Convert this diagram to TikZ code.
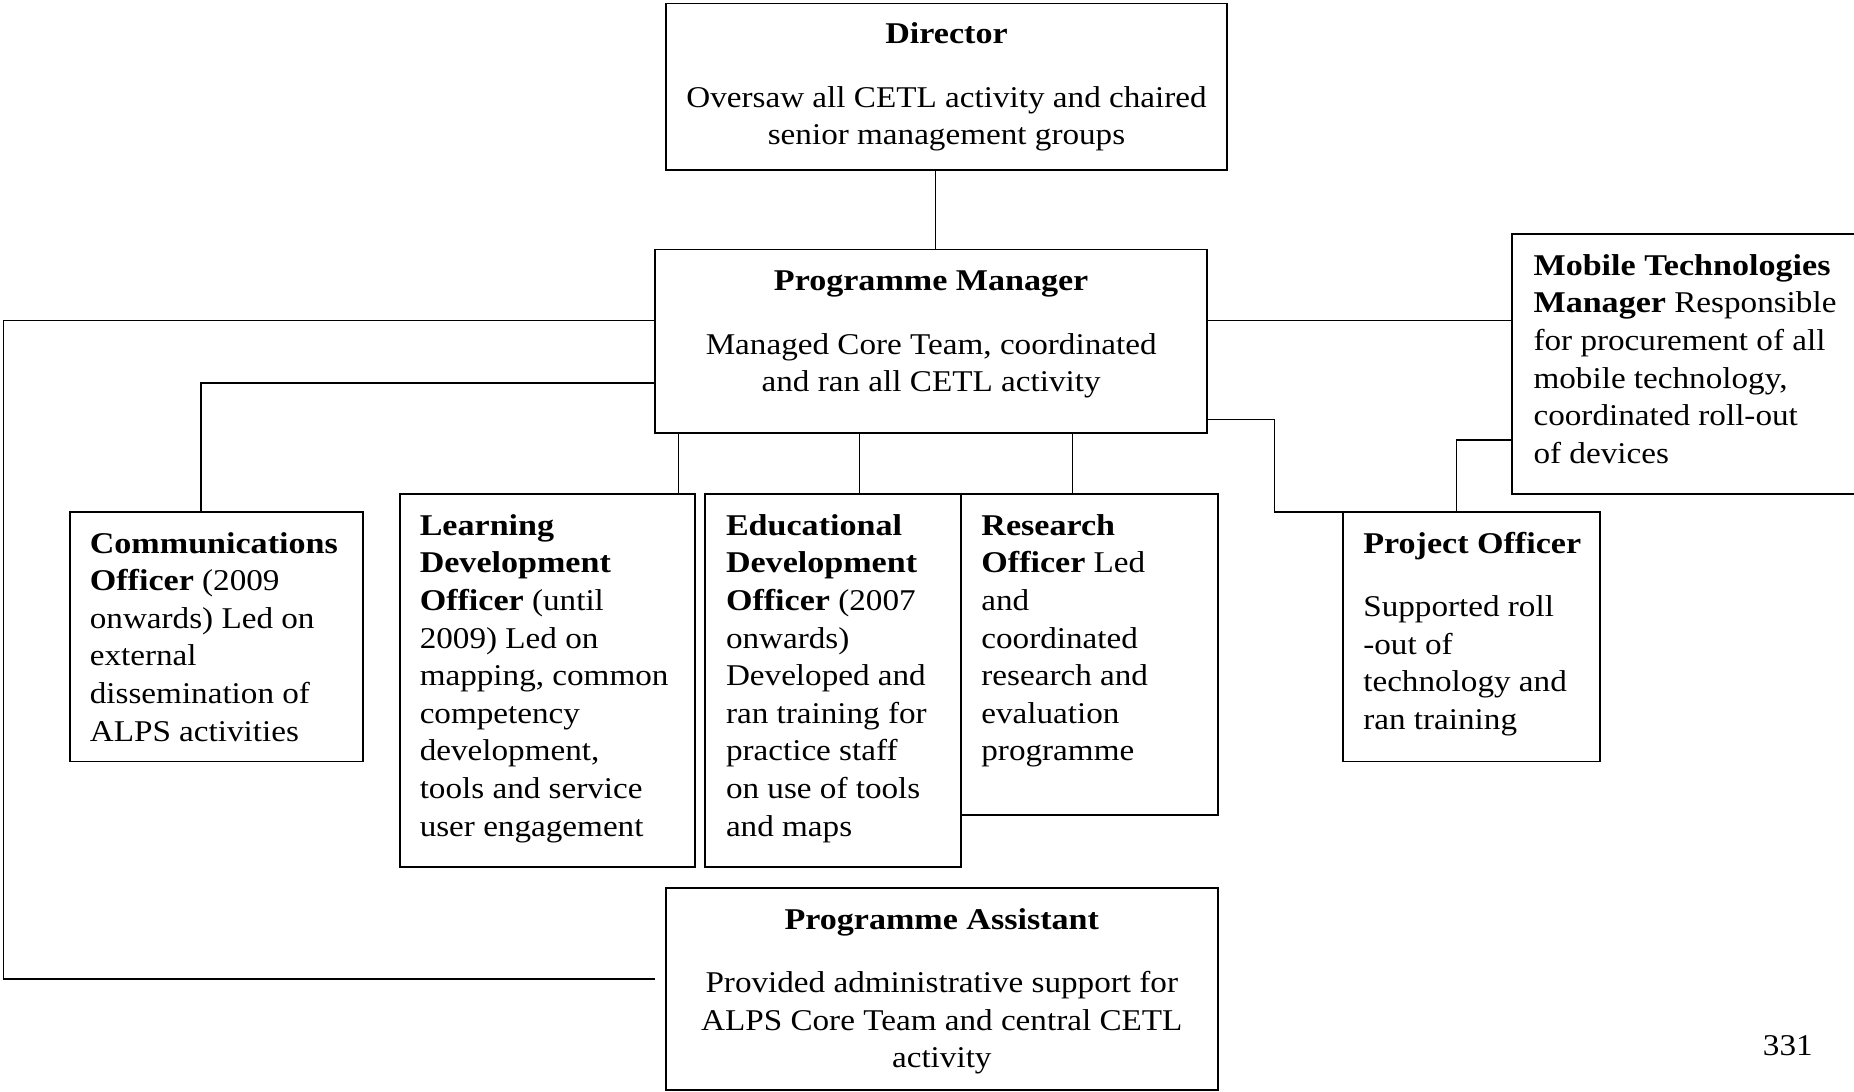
\documentclass[tikz,border=0pt]{standalone}
\usepackage{fontspec}
\setmainfont{Liberation Serif}[FakeStretch=1.10, BoldFeatures={FakeStretch=1.13}]
\newcommand\mkbox[5]{\node[orgbox, minimum width={(#4)-(#2)}, minimum height={(#5)-(#3)}] (#1) at ({((#2)+(#4))/2},{((#3)+(#5))/2}) {};}
\begin{document}
\begin{tikzpicture}[x=1pt,y=-1pt,
  orgbox/.style={draw, line width=1.6pt, inner sep=0pt, outer sep=0pt},
  txt/.style={inner sep=0pt, outer sep=0pt, font=\fontsize{25.5}{31.8}\selectfont, align=left, anchor=north west},
  ctxt/.style={txt, align=center, anchor=north},
  conn/.style={line width=1.2pt}]
\fill[white] (0,0) rectangle (1568,923);
\useasboundingbox (0,0) rectangle (1568,923);
% boxes
\mkbox{dir}{563}{3}{1038}{144}
\mkbox{pm}{554}{211}{1021}{366}
\mkbox{mob}{1279}{198}{1576}{418}
\mkbox{comm}{59}{433}{307}{644}
\mkbox{ld}{338}{418}{588}{733}
\mkbox{ed}{596}{418}{813}{733}
\mkbox{res}{813}{418}{1030}{689}
\mkbox{po}{1136}{433}{1353}{644}
\mkbox{pa}{563}{751}{1030}{922}
% texts
\node[ctxt] (dir-t) at (800.5,14.5) {\strut\textbf{Director}\\[22pt]Oversaw all CETL activity and chaired\\senior management groups};
\node[ctxt] (pm-t) at (787.5,223.5) {\strut\textbf{Programme Manager}\\[22pt]Managed Core Team, coordinated\\and ran all CETL activity};
\node[ctxt] (pa-t) at (796.5,763.5) {\strut\textbf{Programme Assistant}\\[22pt]Provided administrative support for\\ALPS Core Team and central CETL\\activity};
\node[txt] (mob-t) at (1297,210.5) {\strut\textbf{Mobile Technologies}\\\textbf{Manager} Responsible\\for procurement of all\\mobile technology,\\coordinated roll-out\\of devices};
\node[txt] (comm-t) at (76,445.5) {\strut\textbf{Communications}\\\textbf{Officer} (2009\\onwards) Led on\\external\\dissemination of\\ALPS activities};
\node[txt] (ld-t) at (355,430.5) {\strut\textbf{Learning}\\\textbf{Development}\\\textbf{Officer} (until\\2009) Led on\\mapping, common\\competency\\development,\\tools and service\\user engagement};
\node[txt] (ed-t) at (614,430.5) {\strut\textbf{Educational}\\\textbf{Development}\\\textbf{Officer} (2007\\onwards)\\Developed and\\ran training for\\practice staff\\on use of tools\\and maps};
\node[txt] (res-t) at (830,430.5) {\strut\textbf{Research}\\\textbf{Officer} Led\\and\\coordinated\\research and\\evaluation\\programme};
\node[txt] (po-t) at (1153,445.5) {\strut\textbf{Project Officer}\\[22pt]Supported roll\\-out of\\technology and\\ran training};
\node[txt, anchor=base west] (pnum) at (1491,893) {331};
% connector coordinates
\coordinate (xdir) at (791,0);
\coordinate (yl) at (0,271);
\coordinate (lc) at (3,271);
\coordinate (lb) at (3,828);
\coordinate (pafree) at (554,828);
\coordinate (ycm) at (0,324);
\coordinate (xcm) at (170,0);
\coordinate (xld) at (574,0);
\coordinate (xed) at (727,0);
\coordinate (xres) at (907,0);
\coordinate (ypo) at (0,355);
\coordinate (xpo) at (1078,0);
\coordinate (ymo) at (0,372);
\coordinate (xmo) at (1232,0);
% connectors
\draw[conn] (dir.south -| xdir) -- (pm.north -| xdir);
\draw[conn] (pm.west |- yl) -- (lc) -- (lb) -- (pafree);
\draw[conn] (pm.west |- ycm) -| (comm.north -| xcm);
\draw[conn] (pm.south -| xld) -- (ld.north -| xld);
\draw[conn] (pm.south -| xed) -- (ed.north -| xed);
\draw[conn] (pm.south -| xres) -- (res.north -| xres);
\draw[conn] (pm.east |- yl) -- (mob.west |- yl);
\draw[conn] (pm.east |- ypo) -| (po.north -| xpo) -- (po.north west);
\draw[conn] (mob.west |- ymo) -| (po.north -| xmo);
\end{tikzpicture}
\end{document}
